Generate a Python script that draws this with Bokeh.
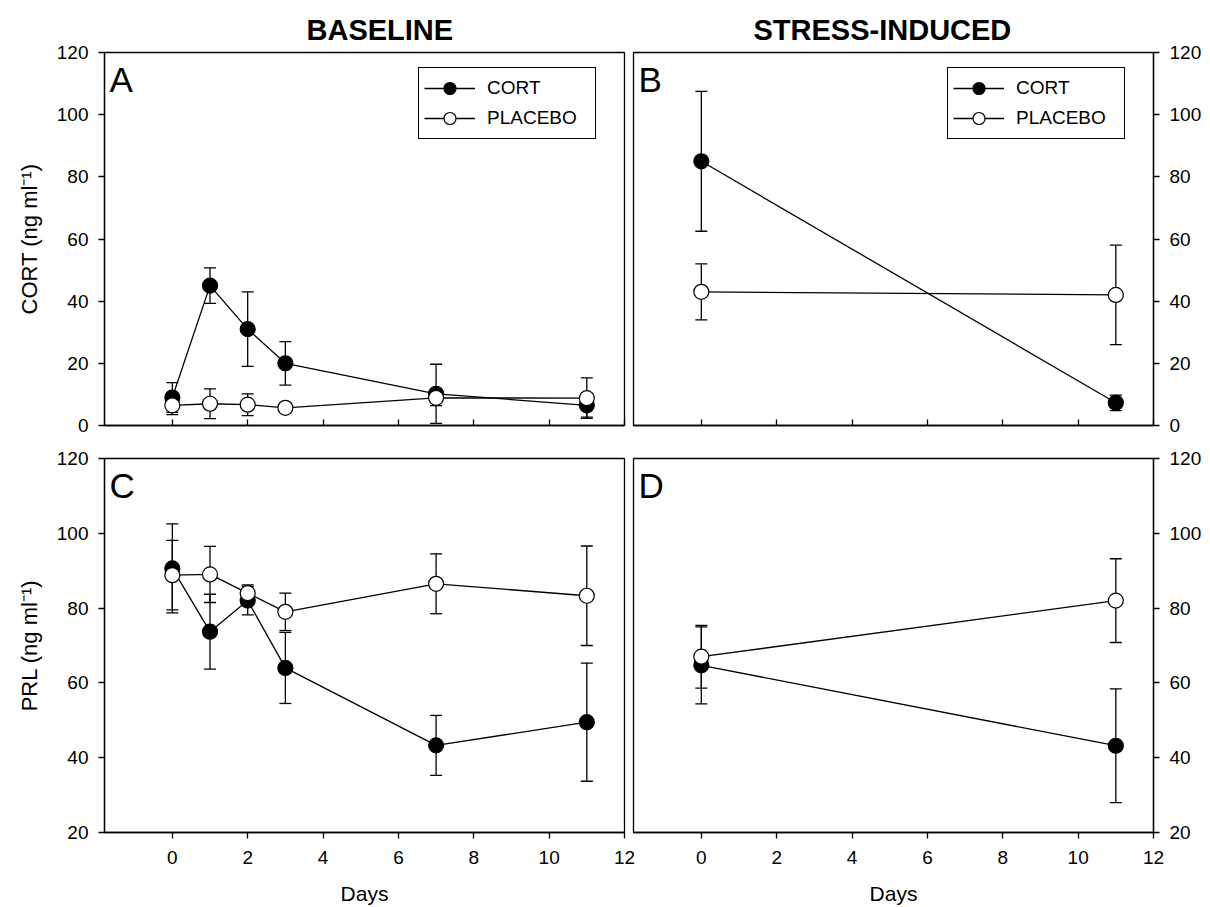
from bokeh.plotting import figure
from bokeh.models import (Range1d, FixedTicker, ColumnDataSource, Whisker, TeeHead,
                          Legend, LegendItem, Label)
from bokeh.layouts import row, column
from bokeh.embed import file_html
from bokeh.resources import INLINE

# ---------------- data ----------------
days_baseline = [0, 1, 2, 3, 7, 11]
days_stress = [0, 11]

cort_baseline_cort = [9.0, 45.0, 31.0, 20.0, 10.2, 6.5]
cort_baseline_cort_err = [4.8, 5.7, 12.0, 7.0, 9.5, 3.8]
cort_baseline_placebo = [6.5, 7.0, 6.7, 5.7, 8.9, 8.8]
cort_baseline_placebo_err = [3.0, 4.8, 3.5, 1.5, 2.5, 6.5]

cort_stress_cort = [85.0, 7.3]
cort_stress_cort_err = [22.5, 2.5]
cort_stress_placebo = [43.0, 42.0]
cort_stress_placebo_err = [9.0, 16.0]

prl_baseline_cort = [90.6, 73.7, 82.0, 64.0, 43.3, 49.5]
prl_baseline_cort_err = [11.9, 10.0, 3.8, 9.5, 8.0, 15.8]
prl_baseline_placebo = [88.8, 89.0, 84.0, 79.0, 86.5, 83.3]
prl_baseline_placebo_err = [9.3, 7.5, 2.2, 5.0, 8.0, 13.3]

prl_stress_cort = [64.7, 43.2]
prl_stress_cort_err = [10.3, 15.2]
prl_stress_placebo = [67.0, 82.0]
prl_stress_placebo_err = [8.4, 11.2]

x_ticks = [0, 2, 4, 6, 8, 10, 12]
cort_ticks = [0, 20, 40, 60, 80, 100, 120]
prl_ticks = [20, 40, 60, 80, 100, 120]
XLIM = (-1.8, 12)
CORT_LIM = (0, 120)
PRL_LIM = (20, 120)

series_labels = ["CORT", "PLACEBO"]
FONT = "Liberation Sans"


def make_panel(days, cort, cort_err, plac, plac_err, ylim, yticks, letter,
               side, top_row, width, height, borders, ylabel=None, xlabel=None,
               title=None, title_offset=0, legend=False):
    bl, br, bt, bb = borders
    p = figure(width=width, height=height,
               x_range=Range1d(*XLIM), y_range=Range1d(*ylim),
               output_backend="svg", toolbar_location=None,
               y_axis_location=side,
               min_border_left=bl, min_border_right=br,
               min_border_top=bt, min_border_bottom=bb)
    p.grid.visible = False
    p.outline_line_color = "black"
    p.outline_line_width = 1.3
    p.background_fill_color = "white"
    p.border_fill_color = None

    # axes
    xa = p.xaxis[0]
    xa.ticker = FixedTicker(ticks=x_ticks)
    xa.axis_line_color = "black"
    xa.axis_line_width = 1.3
    xa.major_tick_line_width = 1.3
    xa.minor_tick_line_color = None
    if top_row:
        xa.major_tick_in = 6
        xa.major_tick_out = 0
        xa.major_label_overrides = {t: "" for t in x_ticks}
        xa.major_label_text_font_size = "1px"
        xa.major_label_standoff = 0
    else:
        xa.major_tick_in = 0
        xa.major_tick_out = 6
        xa.major_label_standoff = 12
        xa.major_label_text_font = FONT
        xa.major_label_text_font_size = "19px"
        xa.major_label_text_color = "black"
        xa.axis_label = xlabel
        xa.axis_label_text_font = FONT
        xa.axis_label_text_font_size = "21px"
        xa.axis_label_text_font_style = "normal"
        xa.axis_label_text_color = "black"
        xa.axis_label_standoff = 15

    ya = p.yaxis[0]
    ya.ticker = FixedTicker(ticks=yticks)
    ya.axis_line_color = "black"
    ya.axis_line_width = 1.3
    ya.major_tick_line_width = 1.3
    ya.minor_tick_line_color = None
    ya.major_tick_in = 0
    ya.major_tick_out = 6
    ya.major_label_text_font = FONT
    ya.major_label_text_font_size = "19px"
    ya.major_label_text_color = "black"
    ya.major_label_standoff = 10
    if ylabel:
        ya.axis_label = ylabel
        ya.axis_label_text_font = FONT
        ya.axis_label_text_font_size = "22px"
        ya.axis_label_text_font_style = "normal"
        ya.axis_label_text_color = "black"
        ya.axis_label_standoff = 12

    # error bars
    for vals, errs in ((cort, cort_err), (plac, plac_err)):
        src = ColumnDataSource(dict(
            x=days,
            upper=[v + e for v, e in zip(vals, errs)],
            lower=[v - e for v, e in zip(vals, errs)]))
        w = Whisker(source=src, base="x", upper="upper", lower="lower",
                    dimension="height", line_color="black", line_width=1.3,
                    upper_head=TeeHead(size=12, line_color="black", line_width=1.3),
                    lower_head=TeeHead(size=12, line_color="black", line_width=1.3))
        p.add_layout(w)

    l1 = p.line(days, cort, line_color="black", line_width=1.3)
    s1 = p.scatter(days, cort, marker="circle", size=15, fill_color="black",
                   line_color="black", line_width=1.2)
    l2 = p.line(days, plac, line_color="black", line_width=1.3)
    s2 = p.scatter(days, plac, marker="circle", size=15, fill_color="white",
                   line_color="black", line_width=1.2)

    if legend:
        lg = Legend(items=[LegendItem(label=series_labels[0], renderers=[l1, s1]),
                           LegendItem(label=series_labels[1], renderers=[l2, s2])],
                    location=(314, 286), margin=0, padding=5, spacing=0,
                    glyph_width=51, glyph_height=30, label_height=30,
                    label_width=103, label_standoff=12,
                    label_text_font=FONT, label_text_font_size="19px",
                    label_text_color="black",
                    border_line_color="black", border_line_width=1.4,
                    border_line_alpha=1.0,
                    background_fill_color="white", background_fill_alpha=1)
        p.add_layout(lg)

    p.add_layout(Label(x=XLIM[0], y=ylim[1], text=letter, x_offset=5, y_offset=-7,
                       text_baseline="top", text_align="left",
                       text_font=FONT, text_font_size="35px", text_color="black"))

    if title:
        p.title.text = title
        p.title.align = "left"
        p.title.offset = title_offset
        p.title.text_font = FONT
        p.title.text_font_size = "29px"
        p.title.text_font_style = "bold"
        p.title.text_color = "black"
        p.title.standoff = 13
    return p


TOP_H = 52 + 373 + 10
BOT_H = 23 + 374 + 75
A_W = 104 + 520 + 16
B_W = 5 + 520 + 51

pA = make_panel(days_baseline, cort_baseline_cort, cort_baseline_cort_err,
                cort_baseline_placebo, cort_baseline_placebo_err,
                CORT_LIM, cort_ticks, "A", "left", True, A_W, TOP_H,
                (104, 16, 52, 10), ylabel="CORT (ng ml\u207b\u00b9)",
                title="BASELINE", title_offset=202, legend=True)
pB = make_panel(days_stress, cort_stress_cort, cort_stress_cort_err,
                cort_stress_placebo, cort_stress_placebo_err,
                CORT_LIM, cort_ticks, "B", "right", True, B_W, TOP_H,
                (5, 51, 52, 10), title="STRESS-INDUCED", title_offset=120,
                legend=True)
pC = make_panel(days_baseline, prl_baseline_cort, prl_baseline_cort_err,
                prl_baseline_placebo, prl_baseline_placebo_err,
                PRL_LIM, prl_ticks, "C", "left", False, A_W, BOT_H,
                (104, 16, 23, 75), ylabel="PRL (ng ml\u207b\u00b9)", xlabel="Days")
pD = make_panel(days_stress, prl_stress_cort, prl_stress_cort_err,
                prl_stress_placebo, prl_stress_placebo_err,
                PRL_LIM, prl_ticks, "D", "right", False, B_W, BOT_H,
                (5, 51, 23, 75), xlabel="Days")

pB.margin = (0, 0, 0, -12)
pD.margin = (0, 0, 0, -12)

layout = column(row(pA, pB, spacing=0), row(pC, pD, spacing=0), spacing=0)

open("out.html", "w").write(file_html(layout, INLINE))
